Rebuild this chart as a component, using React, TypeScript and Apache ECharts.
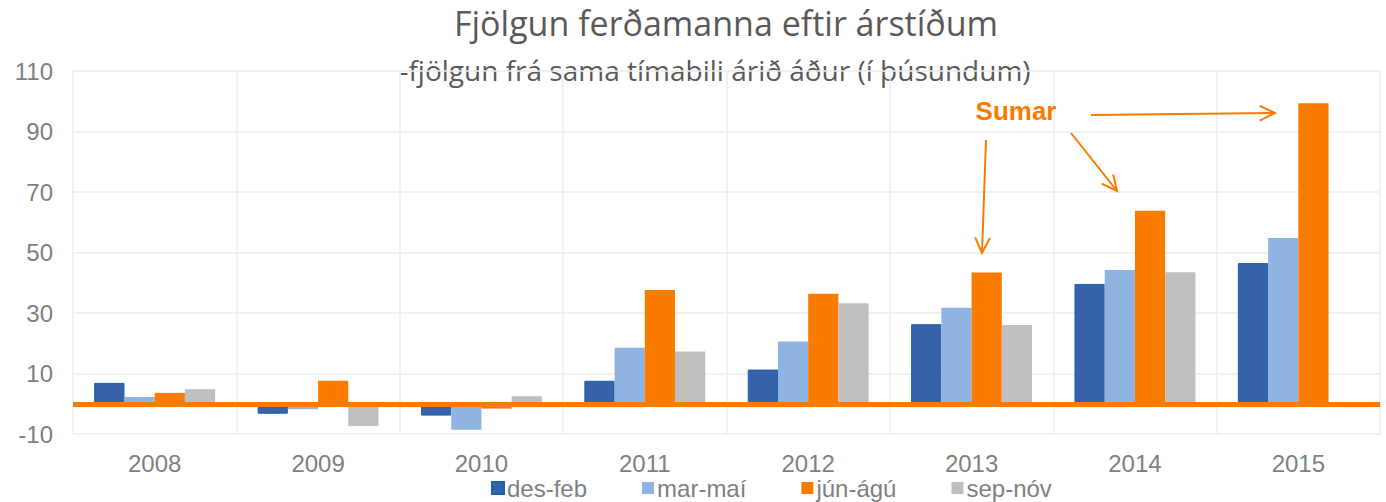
import React, { useEffect, useRef } from "react";
import * as echarts from "echarts";

const years = ["2008", "2009", "2010", "2011", "2012", "2013", "2014", "2015"];
const seriesNames = ["des-feb", "mar-maí", "jún-ágú", "sep-nóv"];
const desFeb = [6.9, -3.3, -3.9, 7.6, 11.3, 26.3, 39.6, 46.5];
const marMai = [2.2, -1.8, -8.6, 18.5, 20.6, 31.7, 44.2, 54.8];
const junAgu = [3.6, 7.6, -1.6, 37.6, 36.4, 43.4, 63.8, 99.3];
const sepNov: (number | null)[] = [4.8, -7.4, 2.5, 17.3, 33.2, 26.0, 43.5, null];
const yMin = -10;
const yMax = 110;
const yStep = 20;

const titleText = "Fjölgun ferðamanna eftir árstíðum";
const subtitleText = "-fjölgun frá sama tímabili árið áður (í þúsundum)";
const annotationText = "Sumar";

const COLORS = ["#3562A9", "#8FB4E2", "#F97B00", "#BFBFBF"];
const BORDERS = ["#1F5EAA", "#8FB4E2", "#F97B00", "#BFBFBF"];
const ORANGE = "#F97B00";
const LABEL = "#7F7F7F";
const FONT = "'Liberation Sans', Arial, sans-serif";

function arrow(x1: number, y1: number, x2: number, y2: number) {
  const ang = Math.atan2(y2 - y1, x2 - x1);
  const len = 17;
  const spread = Math.PI / 7;
  const a1 = ang + Math.PI - spread;
  const a2 = ang + Math.PI + spread;
  const style = { stroke: ORANGE, lineWidth: 2, fill: null };
  return [
    { type: "line", shape: { x1, y1, x2, y2 }, style, z: 100 },
    {
      type: "polyline",
      shape: {
        points: [
          [x2 + len * Math.cos(a1), y2 + len * Math.sin(a1)],
          [x2, y2],
          [x2 + len * Math.cos(a2), y2 + len * Math.sin(a2)],
        ],
      },
      style,
      z: 100,
    },
  ];
}

export default function App() {
  const ref = useRef<HTMLDivElement>(null);
  useEffect(() => {
    if (!ref.current) return;
    const chart = echarts.init(ref.current, null, { renderer: "svg" });
    const data = [desFeb, marMai, junAgu, sepNov];
    chart.setOption({
      animation: false,
      backgroundColor: "#ffffff",
      grid: { left: 73, right: 6, top: 71, bottom: 68, containLabel: false },
      legend: {
        data: seriesNames,
        left: 491,
        top: 476,
        padding: 0,
        itemGap: 55,
        itemWidth: 12,
        itemHeight: 12,
        icon: "rect",
        textStyle: { fontSize: 24, color: LABEL, fontFamily: FONT, padding: [0, 0, 0, -2] },
      },
      xAxis: {
        type: "category",
        data: years,
        axisLine: { show: false },
        axisTick: { show: false },
        axisLabel: { fontSize: 24, color: LABEL, fontFamily: FONT, margin: 17 },
        splitLine: { show: true, lineStyle: { color: "#EDEDED", width: 1.5 } },
      },
      yAxis: {
        type: "value",
        min: yMin,
        max: yMax,
        interval: yStep,
        axisLine: { show: false },
        axisTick: { show: false },
        axisLabel: { fontSize: 24, color: LABEL, fontFamily: FONT, margin: 20 },
        splitLine: { show: true, lineStyle: { color: "#EDEDED", width: 1.5 } },
      },
      series: seriesNames.map((name, i) => ({
        name,
        type: "bar",
        data: data[i],
        barGap: "0%",
        barCategoryGap: "26%",
        itemStyle: { color: COLORS[i], borderColor: BORDERS[i], borderWidth: i === 0 ? 1 : 0 },
        ...(i === 2
          ? {
              markLine: {
                silent: true,
                symbol: "none",
                label: { show: false },
                lineStyle: { color: ORANGE, width: 5, type: "solid" },
                data: [{ yAxis: 0 }],
                z: 10,
              },
            }
          : {}),
      })),
      graphic: [
        {
          type: "text",
          x: 726,
          y: 23,
          style: {
            text: titleText,
            font: "34px 'Open Sans', sans-serif",
            fill: "#595959",
            textAlign: "center",
            textVerticalAlign: "middle",
          },
        },
        {
          type: "text",
          x: 715,
          y: 70,
          style: {
            text: subtitleText,
            font: "28px 'Open Sans', sans-serif",
            fill: "#595959",
            textAlign: "center",
            textVerticalAlign: "middle",
          },
        },
        {
          type: "text",
          x: 1016,
          y: 111,
          style: {
            text: annotationText,
            font: "bold 26px 'Liberation Sans', Arial, sans-serif",
            fill: ORANGE,
            textAlign: "center",
            textVerticalAlign: "middle",
          },
          z: 100,
        },
        ...arrow(986, 140, 982, 253),
        ...arrow(1071, 133, 1117, 191),
        ...arrow(1091, 115, 1275, 113),
      ],
    });
    return () => chart.dispose();
  }, []);
  return (
    <div
      ref={ref}
      style={{ position: "fixed", left: 0, top: 0, width: 1386, height: 502 }}
    />
  );
}
